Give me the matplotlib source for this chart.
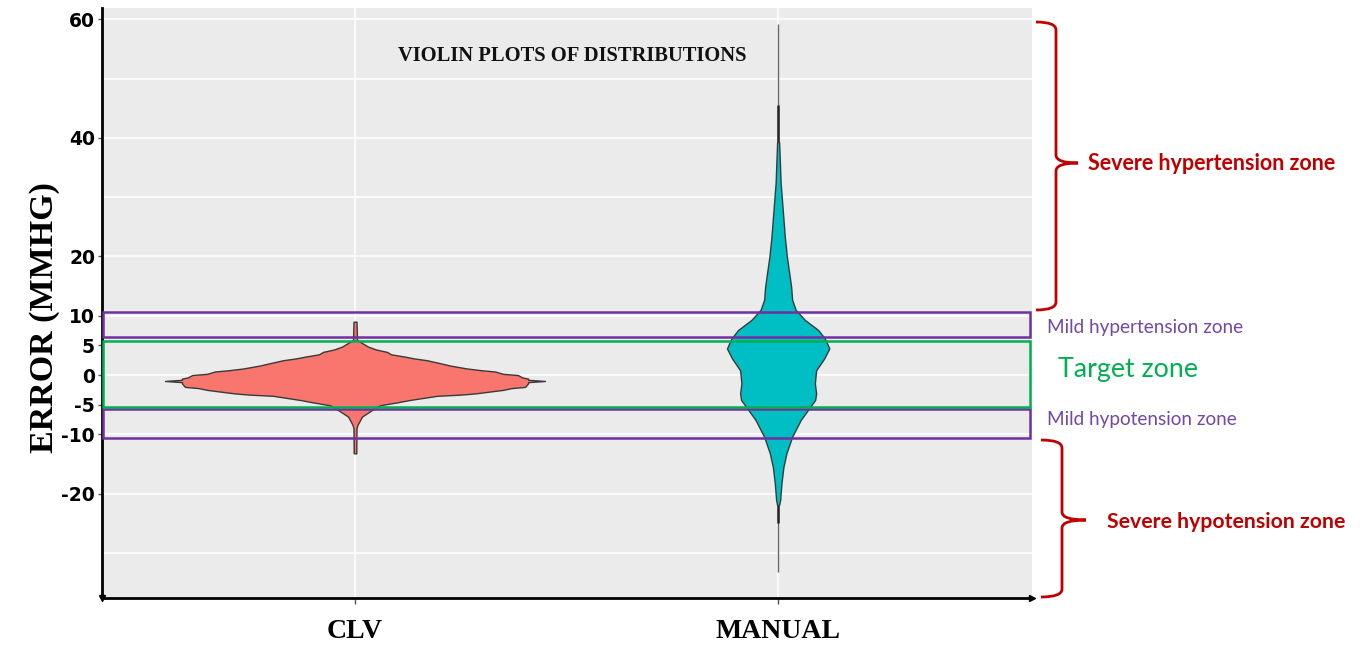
import matplotlib
matplotlib.use("Agg")
import matplotlib.pyplot as plt
from matplotlib.path import Path
from matplotlib.patches import PathPatch, Rectangle

# ---------------- data ----------------
categories = ["CLV", "MANUAL"]

# CLV violin profile: error value (mmHg) and half-width (category units)
clv_y = [9.0, 5.9, 5.6, 5.3, 4.8, 4.3, 3.9, 3.5, 3.1, 2.8, 2.5, 2.0, 1.6, 1.1,
         0.8, 0.6, 0.2, 0.0, -0.4, -0.6, -0.8, -1.0, -1.2, -1.4, -2.0, -2.2,
         -2.5, -3.1, -3.3, -3.5, -4.2, -4.6, -5.1, -5.9, -7.0, -8.4, -9.0, -13.2]
clv_w = [0.0035, 0.0047, 0.0118, 0.0189, 0.0307, 0.050, 0.0757, 0.085, 0.118,
         0.140, 0.170, 0.201, 0.225, 0.265, 0.300, 0.331, 0.350, 0.385, 0.395,
         0.409, 0.409, 0.449, 0.409, 0.409, 0.402, 0.370, 0.350, 0.284, 0.250,
         0.194, 0.130, 0.100, 0.059, 0.040, 0.0165, 0.0059, 0.0035, 0.0030]

# MANUAL violin profile
man_y = [39.3, 32.4, 30.7, 23.3, 20.0, 14.9, 12.7, 11.0, 9.3, 7.6, 6.2, 4.5,
         2.8, 0.8, -1.4, -3.1, -4.2, -5.6, -7.6, -10.4, -13.2, -15.5, -18.3,
         -21.1, -21.9]
man_w = [0.0024, 0.0059, 0.0078, 0.0158, 0.0206, 0.0307, 0.0331, 0.0414,
         0.0631, 0.0946, 0.110, 0.121, 0.109, 0.0898, 0.0868, 0.0898, 0.0875,
         0.0733, 0.0532, 0.0331, 0.0196, 0.0125, 0.0078, 0.0047, 0.0024]

# range lines (min, max) and darker tail segments
clv_range = [-13.2, 9.0]
man_range = [-33.2, 59.2]
man_dark_segments = [[39.3, 45.5], [-25.0, -21.9]]

# y ticks and grid
ytick_vals = [60, 40, 20, 10, 5, 0, -5, -10, -20]
ytick_labels = ["60", "40", "20", "10", "5", "0", "-5", "-10", "-20"]
grid_vals = [-30, -20, -10, 0, 10, 20, 30, 40, 50, 60]

# zone bands (low, high) in mmHg as drawn
zone_mild_hyper = [6.35, 10.55]
zone_target = [-5.34, 5.68]
zone_mild_hypo = [-10.55, -5.8]

title = "VIOLIN PLOTS OF DISTRIBUTIONS"
ylabel = "ERROR (MMHG)"

# ---------------- styling ----------------
W, H = 1366, 646
fig = plt.figure(figsize=(W / 100, H / 100), dpi=100)
fig.patch.set_facecolor("white")
ax = fig.add_axes([102 / W, 1 - 598 / H, 930 / W, 590 / H])
ax.set_facecolor("#EBEBEB")
ax.set_xlim(-0.598, 1.600)
ax.set_ylim(-37.6, 61.9)

for g in grid_vals:
    ax.axhline(g, color="white", lw=1.1, zorder=0.5)
for i in range(len(categories)):
    ax.axvline(i, color="white", lw=1.1, zorder=0.5)

red_fill = "#F8766D"
teal_fill = "#00BFC4"
edge = "#3a3a3a"

# range lines
ax.vlines(0, clv_range[0], clv_range[1], color="#333333", lw=1.6, zorder=2)
ax.vlines(1, man_range[0], man_range[1], color="#666666", lw=1.0, zorder=2)
for seg in man_dark_segments:
    ax.vlines(1, seg[0], seg[1], color="#222222", lw=1.8, zorder=2)

# violins
ax.fill_betweenx(clv_y, [0 - w for w in clv_w], [0 + w for w in clv_w],
                 facecolor=red_fill, edgecolor=edge, lw=1.0, zorder=3)
ax.fill_betweenx(man_y, [1 - w for w in man_w], [1 + w for w in man_w],
                 facecolor=teal_fill, edgecolor=edge, lw=1.0, zorder=3)

# zones
trans = ax.get_yaxis_transform()
purple = "#7030A0"
green = "#00B050"
for z, c in [(zone_mild_hyper, purple), (zone_mild_hypo, purple), (zone_target, green)]:
    ax.add_patch(Rectangle((0.001, z[0]), 0.997, z[1] - z[0], transform=trans,
                           fill=False, edgecolor=c, lw=1.8, zorder=4, clip_on=False))

# axes
for s in ["top", "right"]:
    ax.spines[s].set_visible(False)
for s in ["left", "bottom"]:
    ax.spines[s].set_color("black")
    ax.spines[s].set_linewidth(2.0)
ax.plot([1.0], [0.0], marker=">", color="black", markersize=5,
        transform=ax.transAxes, clip_on=False, zorder=6)
ax.plot([0.0], [0.0], marker="v", color="black", markersize=5,
        transform=ax.transAxes, clip_on=False, zorder=6)

ax.set_yticks(ytick_vals)
ax.set_yticklabels(ytick_labels, fontsize=13.5, fontweight="bold",
                   family="DejaVu Sans")
ax.tick_params(axis="y", length=3, width=1, color="#555555", pad=2)
ax.set_xticks(range(len(categories)))
ax.set_xticklabels(categories, fontsize=20, fontweight="bold",
                   family="Liberation Serif")
ax.tick_params(axis="x", length=4, width=1, color="#555555", pad=11)

fig.text(45 / W, 1 - 318 / H, ylabel, rotation=90, ha="center", va="center",
         fontsize=24.5, fontweight="bold", family="Liberation Serif")
fig.text(572 / W, 1 - 56 / H, title, ha="center", va="center",
         fontsize=14.8, fontweight="bold", family="Liberation Serif", color="#111111")


# braces and zone labels (figure pixel coordinates)
def px(x, y):
    return (x / W, 1 - y / H)


def brace(xl, xv, xt, yt, ym, yb, r, color):
    pts = [(xl, yt), (xv, yt), (xv, yt + r), (xv, ym - r), (xv, ym), (xt, ym),
           (xv, ym), (xv, ym + r), (xv, yb - r), (xv, yb), (xl, yb)]
    codes = [Path.MOVETO, Path.CURVE3, Path.CURVE3, Path.LINETO, Path.CURVE3,
             Path.CURVE3, Path.CURVE3, Path.CURVE3, Path.LINETO, Path.CURVE3,
             Path.CURVE3]
    path = Path([px(*p) for p in pts], codes)
    fig.patches.append(PathPatch(path, transform=fig.transFigure, fill=False,
                                 edgecolor=color, lw=2.0))


darkred = "#C00000"
brace(1036, 1056, 1078, 22, 163, 310, 8, darkred)
brace(1041, 1062, 1086, 440, 520, 597, 8, darkred)

lab_purple = "#7447A8"
fig.text(*px(1088, 163), "Severe hypertension zone", ha="left", va="center",
         fontsize=15.5, fontweight="bold", family="Lato", color=darkred)
fig.text(*px(1047, 327), "Mild hypertension zone", ha="left", va="center",
         fontsize=13.6, family="Lato", color=lab_purple)
fig.text(*px(1058, 369), "Target zone", ha="left", va="center",
         fontsize=19.3, family="Lato", color=green)
fig.text(*px(1047, 420), "Mild hypotension zone", ha="left", va="center",
         fontsize=13.6, family="Lato", color=lab_purple)
fig.text(*px(1107, 522), "Severe hypotension zone", ha="left", va="center",
         fontsize=15.3, fontweight="bold", family="Lato", color=darkred)

fig.savefig("out.png", dpi=100)
